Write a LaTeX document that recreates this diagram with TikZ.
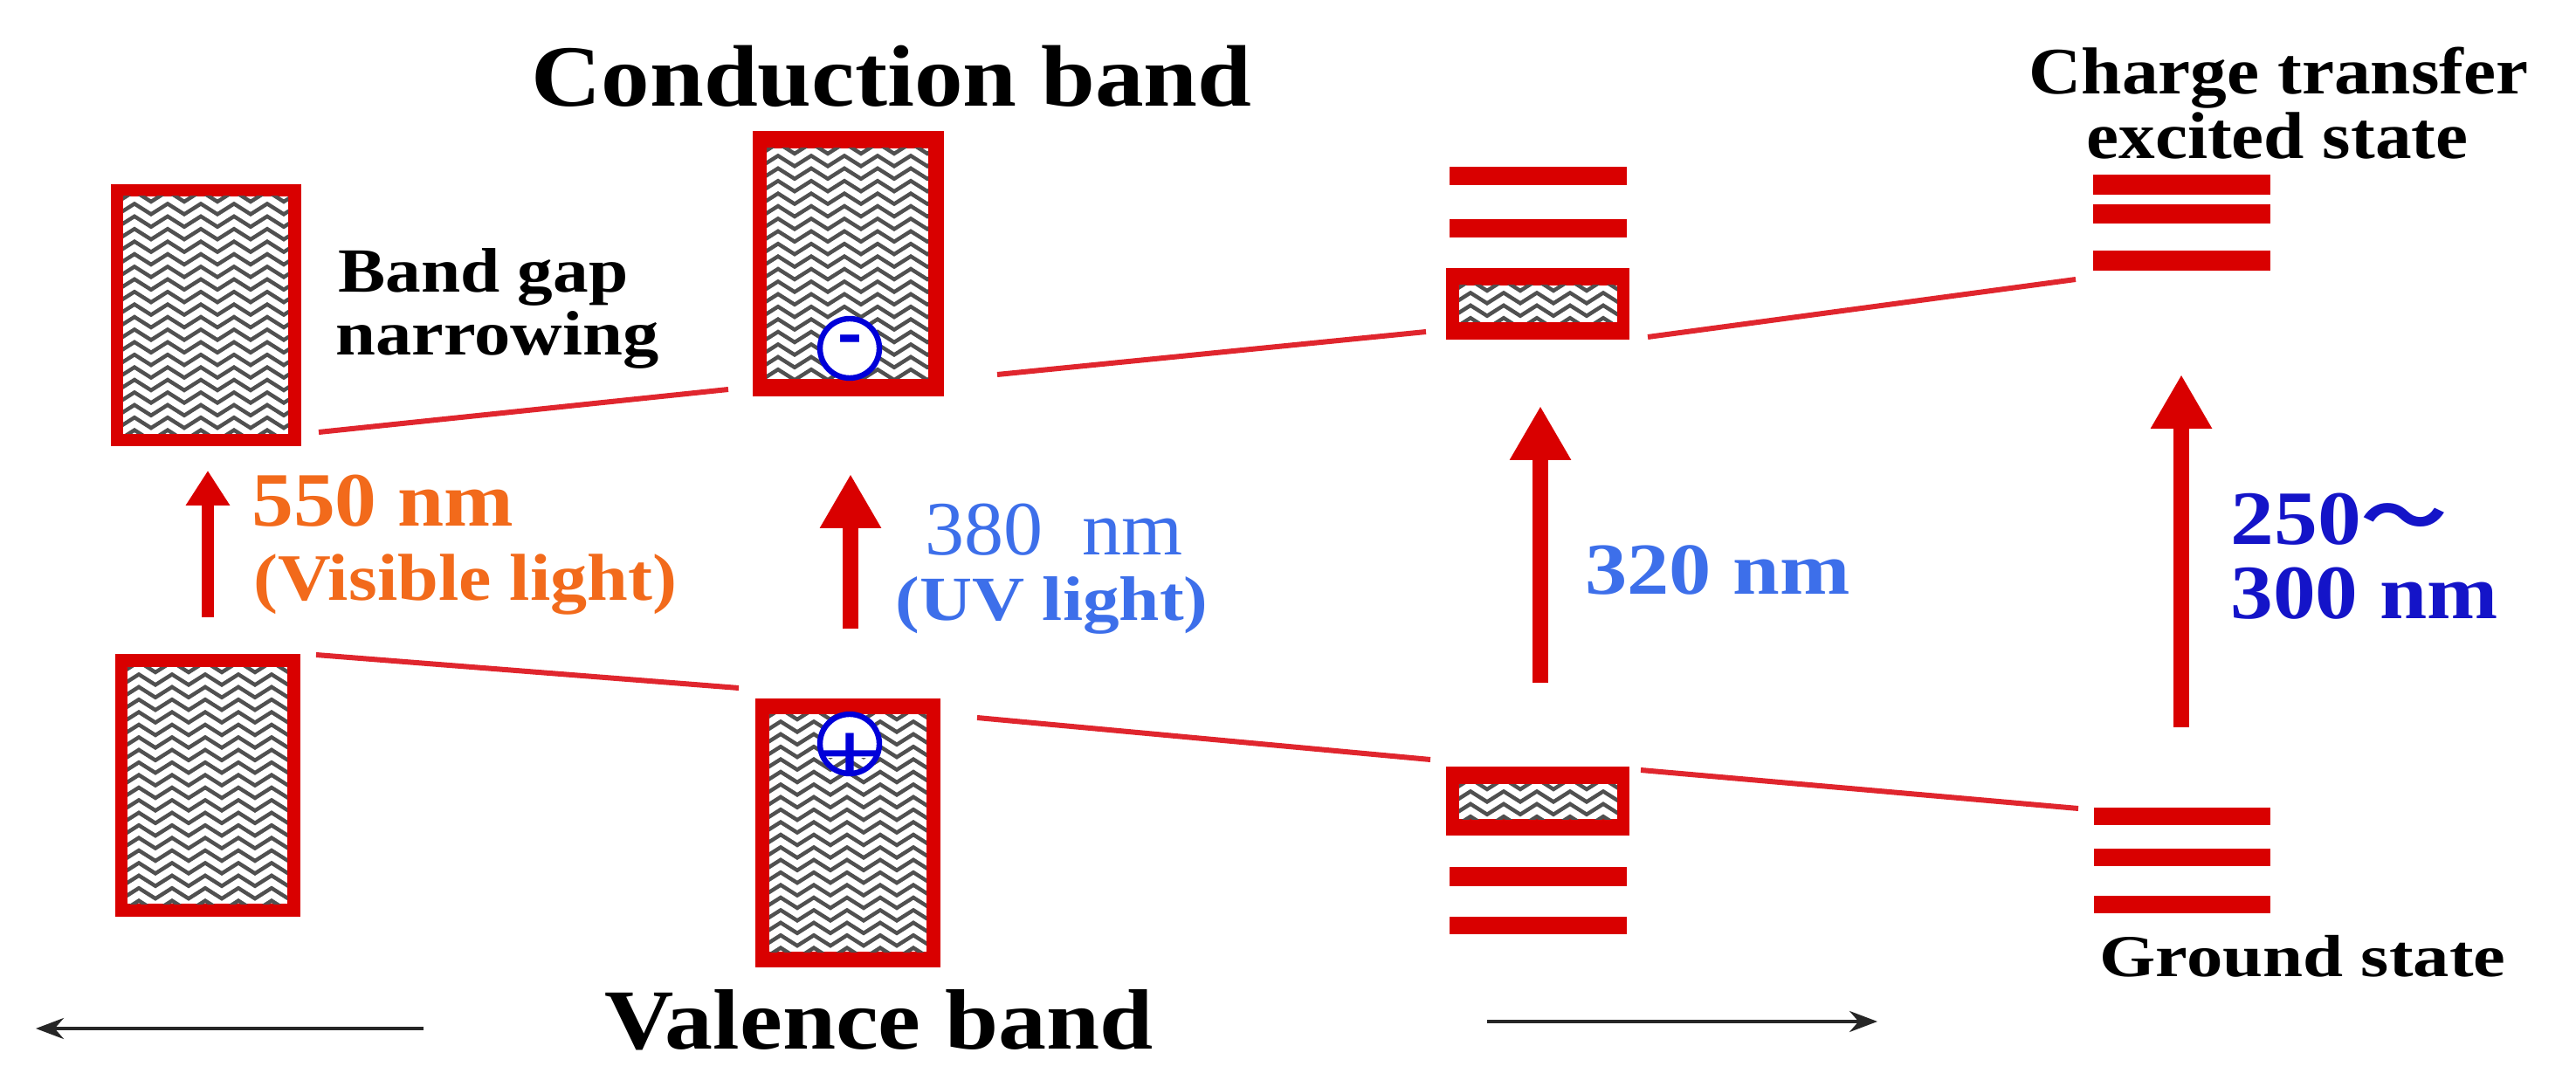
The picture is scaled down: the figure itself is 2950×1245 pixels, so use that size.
\documentclass[tikz,border=0pt]{standalone}
\usepackage{fontspec}
\usepackage{graphicx}
\setmainfont{Liberation Serif}
\newfontfamily\cjk{Noto Sans CJK SC}[BoldFont={Noto Sans CJK SC Bold}]
\usetikzlibrary{arrows.meta}
\definecolor{barred}{HTML}{D90000}
\definecolor{linered}{HTML}{E0262E}
\definecolor{orangetxt}{HTML}{F26A1B}
\definecolor{bluetxt}{HTML}{3D6FEA}
\definecolor{deepblue}{HTML}{1414C8}
\definecolor{wavegray}{HTML}{505050}
\newcommand\fitw[2]{\resizebox{\dimexpr #1pt/2\relax}{\height}{#2}}
% name, outer x1 y1 x2 y2, inner x1 y1 x2 y2
\newcommand\bandbox[9]{%
  \fill[barred] (#2,#3) rectangle (#4,#5);
  \fill[white] (#6,#7) rectangle (#8,#9);
  \begin{scope}
    \clip (#6,#7) rectangle (#8,#9);
    \pgfmathsetmacro\rowcount{int((#9-#7)/14.4)+1}
    \foreach \r in {0,...,\rowcount}{
      \draw[wavegray,line width=2.2pt,line join=miter]
        (#6-6,#7+6+\r*14.4) \foreach \k in {0,...,6}{ -- ++(19,-12) -- ++(19,12)};
    }
  \end{scope}}
\tikzset{
  level/.style={fill=barred},
  link/.style={linered,line width=3pt},
  pump/.style={barred,line width=9pt,-{Triangle[length=31pt,width=33pt]}},
  thinpump/.style={barred,line width=7pt,-{Triangle[length=20pt,width=24pt]}},
  axisarrow/.style={black!85,line width=2pt,-{Stealth[length=16pt,width=12pt]}},
  lab/.style={anchor=base west,inner sep=0pt,font=\bfseries},
  hole/.style={draw=blue!85!black,line width=3.2pt,circle,minimum size=34pt,inner sep=0pt},
}
\begin{document}
\begin{tikzpicture}[x=0.5pt,y=-0.5pt]
\useasboundingbox (0,0) rectangle (2950,1245);
% boxes
\bandbox{b1}{127}{211}{345}{511}{141}{225}{330}{497}
\bandbox{b2}{862}{150}{1081}{454}{878}{170}{1063}{434}
\bandbox{b3}{132}{749}{344}{1050}{146}{764}{329}{1035}
\bandbox{b4}{865}{800}{1077}{1108}{881}{818}{1061}{1090}
\bandbox{b5}{1656}{878}{1866}{957}{1671}{898}{1852}{938}
\bandbox{b6}{1656}{307}{1866}{389}{1671}{327}{1852}{369}
% levels
\fill[level] (1660,191) rectangle (1863,212);
\fill[level] (1660,251) rectangle (1863,272);
\fill[level] (1660,993) rectangle (1863,1015);
\fill[level] (1660,1050) rectangle (1863,1070);
\fill[level] (2397,200) rectangle (2600,223);
\fill[level] (2397,234) rectangle (2600,256);
\fill[level] (2397,287) rectangle (2600,310);
\fill[level] (2398,925) rectangle (2600,945);
\fill[level] (2398,972) rectangle (2600,992);
\fill[level] (2398,1026) rectangle (2600,1046);
% connector ends
\coordinate (u1a) at (365,495); \coordinate (u1b) at (834,446);
\coordinate (u2a) at (1142,429); \coordinate (u2b) at (1633,380);
\coordinate (u3a) at (1887,386); \coordinate (u3b) at (2377,320);
\coordinate (l1a) at (362,750); \coordinate (l1b) at (846,788);
\coordinate (l2a) at (1119,822); \coordinate (l2b) at (1638,870);
\coordinate (l3a) at (1879,882); \coordinate (l3b) at (2380,926);
\draw[link] (u1a) -- (u1b);
\draw[link] (u2a) -- (u2b);
\draw[link] (u3a) -- (u3b);
\draw[link] (l1a) -- (l1b);
\draw[link] (l2a) -- (l2b);
\draw[link] (l3a) -- (l3b);
% pump arrows
\coordinate (p1a) at (238,707); \coordinate (p1b) at (238,539);
\coordinate (p2a) at (974,720); \coordinate (p2b) at (974,543);
\coordinate (p3a) at (1764,782); \coordinate (p3b) at (1764,465);
\coordinate (p4a) at (2498,833); \coordinate (p4b) at (2498,429);
\draw[thinpump] (p1a) -- (p1b);
\draw[pump] (p2a) -- (p2b);
\draw[pump] (p3a) -- (p3b);
\draw[pump] (p4a) -- (p4b);
% axis arrows
\coordinate (ax1a) at (485,1178); \coordinate (ax1b) at (41,1178);
\coordinate (ax2a) at (1703,1170); \coordinate (ax2b) at (2150,1170);
\draw[axisarrow] (ax1a) -- (ax1b);
\draw[axisarrow] (ax2a) -- (ax2b);
% carriers
\fill[white] (973,399) circle (36);
\node[hole] (minus) at (973,399) {};
\node[inner sep=0pt,blue!85!black,font=\fontsize{50}{50}\selectfont\bfseries] (minussign) at (973,398) {\fitw{28}{-}};
\begin{scope}
  \clip (973,852) circle (36);
  \fill[white] (930,810) rectangle (1016,868);
  \node[inner sep=0pt,blue!85!black,font=\fontsize{50}{50}\selectfont\bfseries] (plussign) at (973,868) {\fitw{76}{+}};
\end{scope}
\node[hole] (plus) at (973,852) {};
% labels
\node[lab,font=\fontsize{50}{50}\selectfont\bfseries] (t1) at (608,122) {\fitw{825}{Conduction band}};
\node[lab,font=\fontsize{49}{49}\selectfont\bfseries] (t2) at (692,1201) {\fitw{628}{Valence band}};
\node[lab,font=\fontsize{38}{38}\selectfont\bfseries] (t3) at (2323,108) {\fitw{572}{Charge transfer}};
\node[lab,font=\fontsize{38}{38}\selectfont\bfseries] (t4) at (2389,182) {\fitw{437}{excited state}};
\node[lab,font=\fontsize{36}{36}\selectfont\bfseries] (t5) at (387,335) {\fitw{332}{Band gap}};
\node[lab,font=\fontsize{36}{36}\selectfont\bfseries] (t6) at (384,407) {\fitw{370}{narrowing}};
\node[lab,orangetxt,font=\fontsize{44}{44}\selectfont\bfseries] (t7) at (288,603) {\fitw{300}{550 nm}};
\node[lab,orangetxt,font=\fontsize{38}{38}\selectfont\bfseries] (t8) at (290,688) {\fitw{485}{(Visible light)}};
\node[lab,bluetxt,font=\fontsize{44}{44}\selectfont] (t9) at (1059,635) {\fitw{295}{380\ \ nm}};
\node[lab,bluetxt,font=\fontsize{36}{36}\selectfont\bfseries] (t10) at (1025,710) {\fitw{358}{(UV light)}};
\node[lab,bluetxt,font=\fontsize{42}{42}\selectfont\bfseries] (t11) at (1815,681) {\fitw{303}{320 nm}};
\node[lab,deepblue,font=\fontsize{44}{44}\selectfont\bfseries] (t12) at (2554,624) {\fitw{249}{250{\cjk ～}}};
\node[lab,deepblue,font=\fontsize{44}{44}\selectfont\bfseries] (t13) at (2554,708) {\fitw{306}{300 nm}};
\node[lab,font=\fontsize{34}{34}\selectfont\bfseries] (t14) at (2404,1118) {\fitw{465}{Ground state}};
\end{tikzpicture}
\end{document}
